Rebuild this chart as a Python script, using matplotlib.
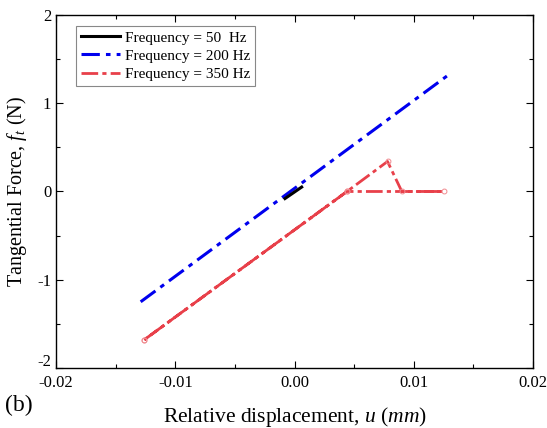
import matplotlib
matplotlib.use("Agg")
import matplotlib.pyplot as plt
from matplotlib.ticker import MultipleLocator, FixedLocator, FixedFormatter
import matplotlib.transforms as mtransforms

plt.rcParams['font.family'] = ['Liberation Serif', 'DejaVu Serif']
plt.rcParams['mathtext.fontset'] = 'custom'
plt.rcParams['mathtext.rm'] = 'Liberation Serif'
plt.rcParams['mathtext.it'] = 'Liberation Serif:italic'
plt.rcParams['axes.unicode_minus'] = False

# Data
u_50 = [-0.0008, 0.0006]
f_50 = [-0.08, 0.05]

u_200 = [-0.0129, 0.0129]
f_200 = [-1.25, 1.32]

u_350 = [-0.0126, 0.0044, 0.0078, 0.0090, 0.0125, 0.0044, -0.0126]
f_350 = [-1.68, 0.0, 0.34, 0.0, 0.0, 0.0, -1.68]

xticks = [-0.02, -0.01, 0.0, 0.01, 0.02]
xticklabels = ["-0.02", "-0.01", "0.00", "0.01", "0.02"]
yticks = [-2, -1, 0, 1, 2]
yticklabels = ["-2", "-1", "0", "1", "2"]

fig = plt.figure(figsize=(5.47, 4.28), dpi=100)
ax = fig.add_axes([0.1024, 0.1402, 0.8720, 0.8248])

ax.plot(u_50, f_50, color='black', lw=2.2, ls='-', label='Frequency = 50  Hz', zorder=4)
ax.plot(u_200, f_200, color='#0000ee', lw=2.2, ls=(0, (6, 2, 1.5, 2)), label='Frequency = 200 Hz', zorder=3)
ax.plot(u_350, f_350, color='#e8404a', lw=2.0, ls=(0, (6, 1.5, 1.5, 1.5)),
        label='Frequency = 350 Hz', zorder=2)
ax.plot(u_350, f_350, color='#f5b0b5', lw=0, marker='o', ms=3.5, mfc='none',
        mec='#f08a90', mew=0.7, zorder=2)

ax.set_xlim(-0.02, 0.02)
ax.set_ylim(-2, 2)
ax.xaxis.set_major_locator(FixedLocator(xticks))
ax.xaxis.set_major_formatter(FixedFormatter(xticklabels))
ax.yaxis.set_major_locator(FixedLocator(yticks))
ax.yaxis.set_major_formatter(FixedFormatter(yticklabels))
ax.xaxis.set_minor_locator(MultipleLocator(0.005))
ax.yaxis.set_minor_locator(MultipleLocator(0.5))
ax.tick_params(which='both', direction='in', top=True, right=True, labelsize=12)
ax.tick_params(axis='x', which='major', pad=5)
ax.tick_params(which='major', length=5, width=0.8)
ax.tick_params(which='minor', length=3, width=0.8)
for s in ax.spines.values():
    s.set_linewidth(1.0)

ax.set_xlabel('Relative displacement, $u$ ($mm$)', fontsize=15.5, labelpad=10)
ax.set_ylabel('Tangential Force, $f_t$ (N)', fontsize=14.5, labelpad=6)

fig.canvas.draw()
# nudge the bottom y tick label up a little, as in the reference
lbl = ax.get_yticklabels()[0]
lbl.set_transform(lbl.get_transform() + mtransforms.ScaledTranslation(0, 6/72, fig.dpi_scale_trans))

leg = ax.legend(loc='upper left', bbox_to_anchor=(0.042, 0.968), fontsize=11,
                frameon=True, fancybox=False, edgecolor='#888888', framealpha=1,
                handlelength=2.6, handletextpad=0.3, borderpad=0.3, labelspacing=0.3,
                borderaxespad=0)
leg.get_frame().set_linewidth(0.8)

fig.text(0.01, 0.04, '(b)', fontsize=17)

fig.savefig('out.png', dpi=100)
